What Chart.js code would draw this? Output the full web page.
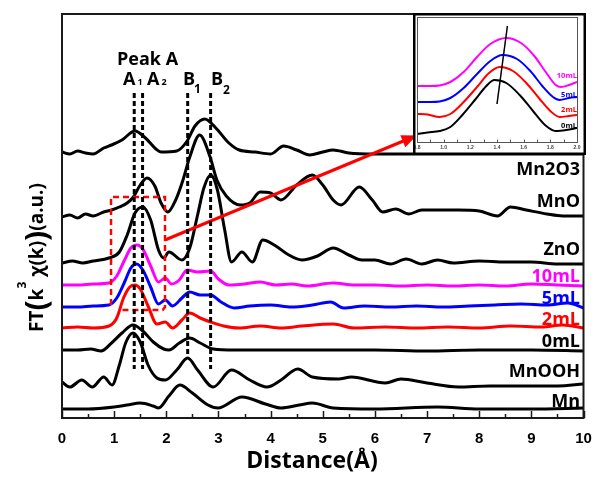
<!DOCTYPE html>
<html><head><meta charset="utf-8">
<script src="https://cdn.jsdelivr.net/npm/chart.js@4.4.0/dist/chart.umd.min.js"></script>
<style>
html,body{margin:0;padding:0;background:#fff;}
#wrap{position:relative;width:595px;height:484px;overflow:hidden;}
#main{position:absolute;left:0;top:0;}
#inset{position:absolute;left:413px;top:13px;}
</style></head><body>
<div id="wrap"><canvas id="main" width="595" height="484"></canvas><canvas id="inset" width="173" height="142"></canvas></div>
<script>
// ---------- main chart data (x: Distance in Å, y: stacked FT magnitude, a.u.) ----------
const xTicks = [0,1,2,3,4,5,6,7,8,9,10];

const mn2o3X = [0,0.15,0.3,0.45,0.6,0.8,0.95,1.15,1.4,1.6,1.8,1.9,2.2,2.4,2.55,2.74,2.95,3.2,3.4,3.7,4.0,4.25,4.5,4.75,5.0,5.2,5.5,6.0,7.0,8.0,9.0,10];
const mn2o3Y = [266,264,267,265,264,270,273,278,287,280,269,266,267,277,292,299,290,275,268,266,264,272,268,263,266,268,265,264,264,264,264,264];

const mnoX = [0,0.15,0.3,0.45,0.6,0.8,0.95,1.1,1.25,1.37,1.5,1.63,1.78,1.9,2.03,2.18,2.32,2.45,2.64,2.84,2.97,3.15,3.42,3.6,3.8,4.0,4.2,4.5,4.8,5.0,5.2,5.35,5.7,5.95,6.15,6.4,6.65,6.9,7.2,7.6,8.0,8.35,8.6,8.9,9.3,9.6,10];
const mnoY = [201,203,200,204,202,206,208,211,215,221,233,240,232,215,206,218,238,261,283,261,238,222,213,215,226,225,218,233,243,233,218,213,231,218,206,209,204,208,208,208,207,202,211,208,204,202,202];

const znoX = [0,0.2,0.4,0.6,0.9,1.1,1.25,1.4,1.55,1.7,1.85,1.95,2.05,2.3,2.45,2.6,2.72,2.85,2.98,3.12,3.25,3.45,3.65,3.85,4.1,4.35,4.6,4.9,5.2,5.5,5.75,6.0,6.3,6.6,6.9,7.2,7.5,8.0,8.5,9.0,9.5,10];
const znoY = [155,157,155,157,160,166,183,205,211,198,168,160,166,158,170,203,230,243,228,188,156,166,156,178,172,163,158,162,170,163,158,158,154,159,154,158,155,157,156,156,154,154];

const ml10X = [0,0.3,0.6,0.9,1.05,1.2,1.32,1.44,1.56,1.7,1.85,1.98,2.1,2.25,2.4,2.6,2.85,3.0,3.2,3.5,3.8,4.1,4.4,4.7,5.2,5.6,6.0,6.5,7.0,7.5,8.0,8.5,9.0,9.5,10];
const ml10Y = [133,133,134,135,142,158,170,173,168,152,136,140,134,138,148,146,147,139,133,134,136,133,134,132,135,133,133,132,133,132,133,132,134,133,132];

const ml5X = [0,0.3,0.6,0.9,1.05,1.2,1.32,1.43,1.55,1.7,1.85,1.98,2.12,2.3,2.45,2.65,2.85,3.05,3.3,3.6,4.0,4.4,4.8,5.15,5.4,5.8,6.3,6.8,7.3,7.8,8.3,8.8,9.3,9.7,10];
const ml5Y = [111,111,112,113,120,136,150,154,148,131,114,118,112,120,126,123,123,116,110,112,113,111,113,116,110,112,111,112,111,112,113,114,113,115,110];

const ml2X = [0,0.3,0.6,0.9,1.05,1.18,1.3,1.4,1.5,1.65,1.82,1.98,2.12,2.3,2.45,2.65,2.85,3.1,3.4,3.8,4.2,4.6,5.2,5.6,6.2,6.8,7.4,8.0,8.6,9.2,9.6,10];
const ml2Y = [90,91,90,92,100,120,131,133,129,112,94,96,90,98,105,100,96,92,90,92,90,92,94,90,91,90,91,90,92,91,93,90];

const ml0X = [0,0.3,0.55,0.75,0.95,1.15,1.36,1.55,1.75,1.95,2.05,2.25,2.45,2.65,2.9,3.3,4,5,6,7,8,9,10];
const ml0Y = [68,68,69,67,75,85,93,87,76,69,68,75,80,75,69,68,68,68,68,67,68,68,67];

const mnoohX = [0,0.15,0.38,0.58,0.8,0.96,1.1,1.22,1.36,1.5,1.65,1.82,1.98,2.2,2.41,2.6,2.9,3.25,3.6,3.93,4.2,4.52,4.8,5.3,5.55,6.2,6.5,7.0,7.6,8.2,8.8,9.5,10];
const mnoohY = [36,31,38,31,41,33,53,75,85,76,53,40,38,48,60,48,31,48,38,31,38,49,41,39,41,35,39,35,31,32,32,32,34];

const mnX = [0,0.5,1.0,1.25,1.5,1.75,1.85,2.05,2.26,2.5,2.8,2.99,3.45,3.9,4.2,4.55,4.8,5.2,6.0,7.2,8.0,9.0,10];
const mnY = [9,9,11,13,15,12,10,22,33,25,13,10,21,14,10,13,15,10,9,11,9,9,10];

// reference dashed lines A1, A2, B1, B2
const refLineX = [1.385, 1.545, 2.41, 2.85];
const refLineTop = [325, 325, 325, 325];
const refLineBottom = [49, 49, 60, 49];

// red dashed box and arrow
const boxX = [0.94, 0.94, 1.975, 1.975, 1.93, 1.15];
const boxY = [113, 221, 221, 111, 108, 108];
const arrowX = [1.975, 6.73];
const arrowY = [178, 281];

// ---------- inset data (x: 0.8–2.0 Å) ----------
const insetTicks = [0.8,1.0,1.2,1.4,1.6,1.8,2.0];
const in10X = [0.8,0.9,0.97,1.05,1.15,1.25,1.35,1.47,1.58,1.68,1.76,1.84,1.88,1.94,2.0];
const in10Y = [56,56,56.5,60,70,85,98,104,99,86,71,57,55,57,60];
const in5X = [0.8,0.9,0.97,1.05,1.15,1.25,1.35,1.44,1.55,1.65,1.74,1.82,1.87,1.94,2.0];
const in5Y = [40,40,40.5,44,54,68,81,87,83,71,56,45,42,44,45];
const in2X = [0.8,0.88,0.97,1.05,1.15,1.25,1.34,1.42,1.52,1.62,1.72,1.8,1.87,1.94,2.0];
const in2Y = [28,27.5,25,28,40,55,69,75,71,59,43,31,25,26,27];
const in0X = [0.8,0.88,0.97,1.05,1.14,1.24,1.32,1.38,1.47,1.57,1.67,1.76,1.84,1.92,2.0];
const in0Y = [8,9.5,11,15,27,43,56,62,59,47,31,17,11,12,14];
const shiftLineX = [1.40, 1.478];
const shiftLineY = [38, 116];

// ---------- helpers ----------
const pts = (xs, ys) => xs.map((x, i) => ({x: x, y: ys[i]}));
const curve = (xs, ys, color, w) => ({
  data: pts(xs, ys), borderColor: color, borderWidth: w || 3, pointRadius: 0,
  cubicInterpolationMode: 'monotone', fill: false, order: 1
});

const datasets = [
  curve(mn2o3X, mn2o3Y, '#000'),
  curve(mnoX, mnoY, '#000'),
  curve(znoX, znoY, '#000'),
  curve(ml10X, ml10Y, '#ff00ff'),
  curve(ml5X, ml5Y, '#0000ff'),
  curve(ml2X, ml2Y, '#ff0000'),
  curve(ml0X, ml0Y, '#000'),
  curve(mnoohX, mnoohY, '#000'),
  curve(mnX, mnY, '#000')
];
refLineX.forEach((xv, i) => {
  datasets.push({data: [{x: xv, y: refLineTop[i]}, {x: xv, y: refLineBottom[i]}],
    borderColor: '#000', borderWidth: 3, borderDash: [5, 3], pointRadius: 0, order: 0});
});
datasets.push({data: pts(boxX, boxY), borderColor: '#ff0000', borderWidth: 2.5,
  borderDash: [6, 4], pointRadius: 0, tension: 0, order: 0});
datasets.push({data: pts(arrowX, arrowY), borderColor: '#ff0000', borderWidth: 3,
  pointRadius: 0, tension: 0, order: 0});

const BOLD = 'bold ';
const OS = '"Open Sans", "DejaVu Sans", sans-serif';

const mainDecor = {
  id: 'mainDecor',
  afterDatasetsDraw(chart) {
    const {ctx, scales: {x, y}} = chart;
    // arrow head
    const x0 = x.getPixelForValue(arrowX[0]), y0 = y.getPixelForValue(arrowY[0]);
    const x1 = x.getPixelForValue(arrowX[1]), y1 = y.getPixelForValue(arrowY[1]);
    const ang = Math.atan2(y1 - y0, x1 - x0);
    const c = Math.cos(ang), s = Math.sin(ang);
    const tipX = x1 + c * 4, tipY = y1 + s * 4;
    const bx = tipX - c * 15, by = tipY - s * 15;
    ctx.save();
    ctx.fillStyle = '#ff0000';
    ctx.beginPath();
    ctx.moveTo(tipX, tipY);
    ctx.lineTo(bx - s * 6.5, by + c * 6.5);
    ctx.lineTo(bx + s * 6.5, by - c * 6.5);
    ctx.closePath();
    ctx.fill();
    ctx.restore();
  },
  afterDraw(chart) {
    const {ctx, chartArea: a, scales: {x}} = chart;
    ctx.save();
    // frame
    ctx.strokeStyle = '#1a1a1a';
    ctx.lineWidth = 2;
    ctx.strokeRect(a.left, a.top, a.right - a.left, a.bottom - a.top);
    // inward ticks
    ctx.lineWidth = 1.5;
    for (let v = 0; v <= 10.001; v += 0.5) {
      const px = Math.round(x.getPixelForValue(v)) + 0.5;
      const major = Math.abs(v - Math.round(v)) < 1e-6;
      ctx.beginPath();
      ctx.moveTo(px, a.bottom);
      ctx.lineTo(px, a.bottom - (major ? 7 : 4));
      ctx.stroke();
    }
    // tick labels
    ctx.fillStyle = '#000';
    ctx.font = 'bold 15px "Liberation Sans", Arial, sans-serif';
    ctx.textAlign = 'center';
    ctx.textBaseline = 'alphabetic';
    xTicks.forEach(v => ctx.fillText(String(v), x.getPixelForValue(v), 443));
    // x title
    ctx.font = BOLD + '23px ' + OS;
    ctx.fillText('Distance(Å)', 312, 468);
    // right labels
    ctx.textAlign = 'right';
    ctx.font = BOLD + '18px ' + OS;
    const labels = [
      ['Mn2O3', 175, '#000'], ['MnO', 207, '#000'], ['ZnO', 255, '#000'],
      ['10mL', 282, '#ff00ff'], ['5mL', 303.5, '#0000ff'], ['2mL', 325, '#ff0000'],
      ['0mL', 347, '#000'], ['MnOOH', 377, '#000'], ['Mn', 407, '#000']
    ];
    labels.forEach(l => { ctx.fillStyle = l[2]; ctx.fillText(l[0], 580, l[1]); });
    // peak labels
    ctx.fillStyle = '#000';
    ctx.textAlign = 'left';
    ctx.font = BOLD + '18px ' + OS;
    ctx.fillText('Peak A', 117, 65);
    ctx.fillText('A', 123, 85);
    ctx.fillText('A', 147, 85);
    ctx.fillText('B', 183, 85);
    ctx.fillText('B', 211, 85);
    ctx.font = BOLD + '9px ' + OS;
    ctx.fillText('1', 137.5, 85);
    ctx.fillText('2', 161.5, 85);
    ctx.font = BOLD + '12px ' + OS;
    ctx.fillText('1', 194, 93);
    ctx.fillText('2', 223, 94);
    // y title (rotated)
    ctx.translate(43, 332);
    ctx.rotate(-Math.PI / 2);
    let pos = 0;
    const piece = (txt, size, dy) => {
      ctx.font = BOLD + size + 'px ' + OS;
      ctx.fillText(txt, pos, dy || 0);
      pos += ctx.measureText(txt).width;
    };
    piece('FT', 19);
    piece('(', 30, 4);
    piece('k', 19);
    piece('3', 12, -17);
    piece(' χ(k)', 19);
    piece(')', 30, 4);
    piece('(a.u.)', 19);
    ctx.restore();
  }
};

new Chart(document.getElementById('main'), {
  type: 'line',
  data: {datasets: datasets},
  options: {
    responsive: false, animation: false, devicePixelRatio: 1,
    layout: {padding: {left: 62, top: 14, right: 11.5, bottom: 0}},
    plugins: {legend: {display: false}, tooltip: {enabled: false}},
    scales: {
      x: {
        type: 'linear', min: 0, max: 10,
        afterFit: s => { s.height = 66; },
        grid: {display: false, drawTicks: false},
        border: {display: false},
        ticks: {display: false}
      },
      y: {type: 'linear', min: 0, max: 404, display: false}
    }
  },
  plugins: [mainDecor]
});

// ---------- inset chart ----------
const insetDecor = {
  id: 'insetDecor',
  beforeDraw(chart) {
    const {ctx, width, height} = chart;
    ctx.save(); ctx.fillStyle = '#fff'; ctx.fillRect(0, 0, width, height); ctx.restore();
  },
  afterDraw(chart) {
    const {ctx, chartArea: a, scales: {x}, width, height} = chart;
    ctx.save();
    ctx.strokeStyle = '#555';
    ctx.lineWidth = 1;
    ctx.strokeRect(a.left + 0.5, a.top + 0.5, a.right - a.left, a.bottom - a.top);
    for (let v = 0.8; v <= 2.0001; v += 0.1) {
      const px = Math.round(x.getPixelForValue(v)) + 0.5;
      ctx.beginPath(); ctx.moveTo(px, a.bottom); ctx.lineTo(px, a.bottom - 2.5); ctx.stroke();
    }
    ctx.fillStyle = '#444';
    ctx.font = 'bold 5px "Liberation Sans", Arial, sans-serif';
    ctx.textAlign = 'center';
    insetTicks.forEach(v => ctx.fillText(v.toFixed(1), x.getPixelForValue(v), a.bottom + 7));
    ctx.strokeStyle = '#000';
    ctx.lineWidth = 2.5;
    ctx.strokeRect(1.25, 1.25, width - 2.5, height - 2.5);
    ctx.font = BOLD + '7.5px ' + OS;
    ctx.textAlign = 'right';
    [['10mL', 65, '#ff00ff'], ['5mL', 84, '#0000ff'], ['2mL', 99, '#ff0000'], ['0mL', 115, '#000']]
      .forEach(l => { ctx.fillStyle = l[2]; ctx.fillText(l[0], 164, l[1]); });
    ctx.restore();
  }
};

const insetSets = [
  curve(in10X, in10Y, '#ff00ff', 2),
  curve(in5X, in5Y, '#0000ff', 2),
  curve(in2X, in2Y, '#ff0000', 2),
  curve(in0X, in0Y, '#000', 2),
  {data: pts(shiftLineX, shiftLineY), borderColor: '#000', borderWidth: 1.5, pointRadius: 0, tension: 0, order: 0}
];

new Chart(document.getElementById('inset'), {
  type: 'line',
  data: {datasets: insetSets},
  options: {
    responsive: false, animation: false, devicePixelRatio: 1,
    layout: {padding: {left: 4, top: 4, right: 9, bottom: 0}},
    plugins: {legend: {display: false}, tooltip: {enabled: false}},
    scales: {
      x: {
        type: 'linear', min: 0.8, max: 2.0,
        afterFit: s => { s.height = 13; },
        grid: {display: false, drawTicks: false},
        border: {display: false},
        ticks: {display: false}
      },
      y: {type: 'linear', min: 0, max: 125, display: false}
    }
  },
  plugins: [insetDecor]
});
</script>
</body></html>
